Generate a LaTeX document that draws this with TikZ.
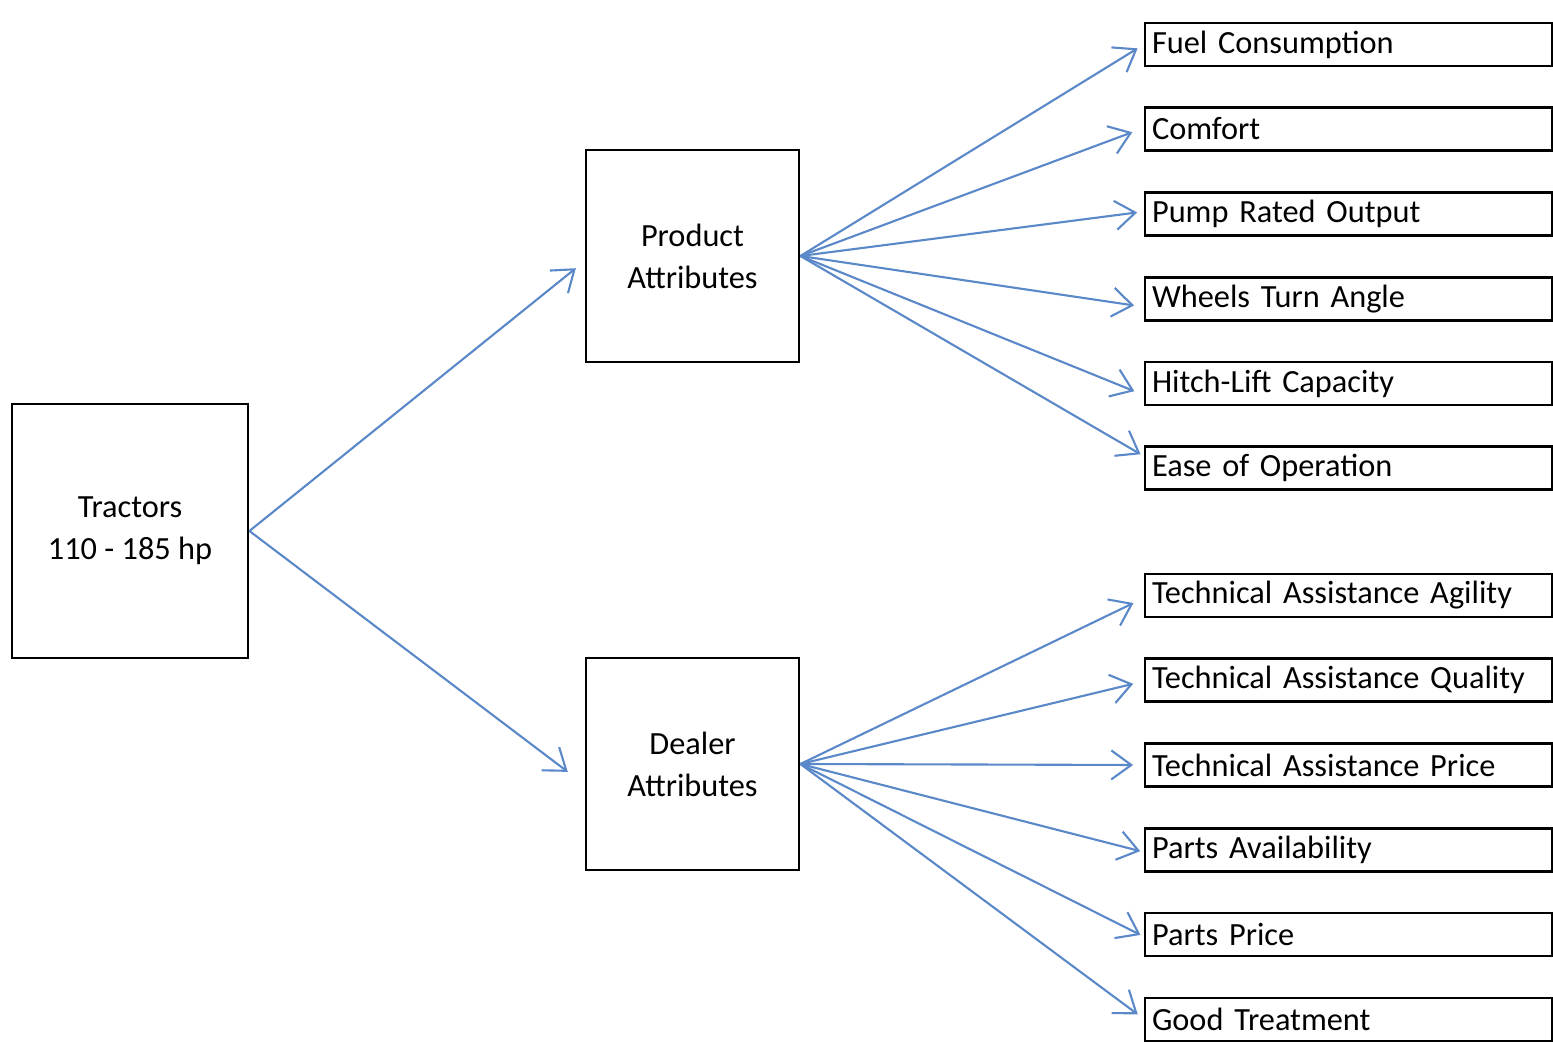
\documentclass[tikz,border=0pt]{standalone}
\usepackage{fontspec}
\setmainfont{Carlito}
\usepackage{tikz}
\usetikzlibrary{arrows.meta,positioning}
\definecolor{Link}{HTML}{5A88C8}

\begin{document}
\begin{tikzpicture}[
  bigbox/.style={draw=black,line width=0.8pt,minimum width=2.13cm,minimum height=2.12cm,align=center,font=\fontsize{9.2}{12}\selectfont},
  attbox/.style={draw=black,line width=0.8pt,text width=4.07cm-4pt,inner xsep=2pt,inner ysep=0pt,minimum height=0.43cm,align=left,font=\fontsize{9.2}{11}\selectfont},
  arrow/.style={-{Straight Barb[length=2mm,width=2.9mm]},line width=0.6pt,draw=Link,shorten >=1pt}
]
\useasboundingbox (0,0) rectangle (15.53,10.42);
\node[bigbox,minimum width=2.36cm,minimum height=2.54cm] (tractors) at (1.30,5.11) {Tractors\\110 - 185 hp};
\node[bigbox] (prod) at (6.925,7.86) {Product\\Attributes};
\node[bigbox] (dealer) at (6.925,2.78) {Dealer\\Attributes};
% product side
\node[attbox] (fuel) at (13.485,9.975) {Fuel Consumption};
\node[attbox] (comfort) at (13.485,9.13) {Comfort};
\node[attbox] (pump) at (13.485,8.28) {Pump Rated Output};
\node[attbox] (wheels) at (13.485,7.43) {Wheels Turn Angle};
\node[attbox] (hitch) at (13.485,6.585) {Hitch-Lift Capacity};
\node[attbox] (ease) at (13.485,5.74) {Ease of Operation};
% dealer side
\node[attbox] (agility) at (13.485,4.465) {Technical Assistance Agility};
\node[attbox] (quality) at (13.485,3.62) {Technical Assistance Quality};
\node[attbox] (price) at (13.485,2.77) {Technical Assistance Price};
\node[attbox] (avail) at (13.485,1.92) {Parts Availability};
\node[attbox] (pprice) at (13.485,1.075) {Parts Price};
\node[attbox] (treat) at (13.485,0.225) {Good Treatment};
\draw[arrow] (tractors.east) -- ([xshift=-0.06cm,yshift=-0.10cm]prod.west);
\draw[arrow] (tractors.east) -- ([xshift=-0.14cm,yshift=-0.10cm]dealer.west);
\draw[arrow] (prod.east) -- ([xshift=-0.03cm,yshift=-0.02cm]fuel.west);
\draw[arrow] (prod.east) -- ([xshift=-0.08cm,yshift=-0.02cm]comfort.west);
\draw[arrow] (prod.east) -- ([xshift=-0.03cm,yshift=0.02cm]pump.west);
\draw[arrow] (prod.east) -- ([xshift=-0.06cm,yshift=-0.07cm]wheels.west);
\draw[arrow] (prod.east) -- ([xshift=-0.06cm,yshift=-0.09cm]hitch.west);
\draw[arrow] (prod.east) -- ([yshift=0.12cm]ease.west);
\draw[arrow] (dealer.east) -- ([xshift=-0.07cm,yshift=-0.06cm]agility.west);
\draw[arrow] (dealer.east) -- ([xshift=-0.07cm,yshift=-0.03cm]quality.west);
\draw[arrow] (dealer.east) -- ([xshift=-0.07cm]price.west);
\draw[arrow] (dealer.east) -- ([yshift=-0.02cm]avail.west);
\draw[arrow] (dealer.east) -- ([yshift=-0.02cm]pprice.west);
\draw[arrow] (dealer.east) -- ([xshift=-0.03cm,yshift=0.03cm]treat.west);
\end{tikzpicture}
\end{document}
